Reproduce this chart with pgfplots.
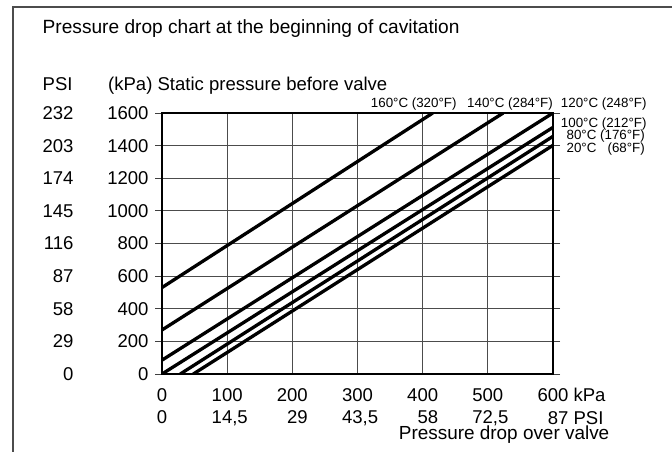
\documentclass[border=0pt]{standalone}
\usepackage{fontspec}
\setmainfont{Liberation Sans}
\usepackage{pgfplots}
\pgfplotsset{compat=1.18}
\begin{document}
\begin{tikzpicture}[x=1bp,y=1bp]
\useasboundingbox (0,0) rectangle (672,-452);
\draw[line width=1.8bp, black!70] (13,-455) -- (13,-6.7) -- (675,-6.7);
\node[anchor=base west, inner sep=0pt, font=\fontsize{19.2}{22}\selectfont] at (42.5,-33.3) {Pressure drop chart at the beginning of cavitation};
\node[anchor=base west, inner sep=0pt, font=\fontsize{18.6}{22}\selectfont] at (42.5,-91) {PSI};
\node[anchor=base west, inner sep=0pt, font=\fontsize{18.6}{22}\selectfont] at (108,-91) {(kPa) Static pressure before valve};
\node[anchor=base east, inner sep=0pt, font=\fontsize{19}{22}\selectfont] at (609.5,-439.3) {Pressure drop over valve};
\begin{scope}[font=\fontsize{13.4}{15}\selectfont]
\node[anchor=west, inner sep=0pt] at (370.7,-104) {160°C (320°F)};
\node[anchor=west, inner sep=0pt] at (467,-104) {140°C (284°F)};
\node[anchor=west, inner sep=0pt] at (560.7,-104) {120°C (248°F)};
\node[anchor=west, inner sep=0pt] at (560.7,-124.5) {100°C (212°F)};
\node[anchor=east, inner sep=0pt] at (645,-136.5) {80°C (176°F)};
\node[anchor=east, inner sep=0pt] at (645,-149) {20°C \ \ (68°F)};
\end{scope}
\begin{axis}[
  at={(162bp,-374bp)}, anchor=south west,
  scale only axis, width=391bp, height=261bp,
  xmin=0, xmax=600, ymin=0, ymax=1600,
  xtick={0,100,200,300,400,500,600},
  ytick={0,200,400,600,800,1000,1200,1400,1600},
  xticklabels={
    {0\\0},
    {100\\\rlap{14,5}\phantom{100}},
    {200\\\phantom{200}\llap{29}},
    {300\\\rlap{43,5}\phantom{300}},
    {400\\\phantom{400}\llap{58}},
    {500\\\rlap{72,5}\phantom{500}},
    {600\rlap{ kPa}\\\phantom{600}\llap{87}\rlap{ PSI}}},
  yticklabels={
    {\llap{0\hspace{75bp}}\llap{0}},
    {\llap{29\hspace{75bp}}\llap{200}},
    {\llap{58\hspace{75bp}}\llap{400}},
    {\llap{87\hspace{75bp}}\llap{600}},
    {\llap{116\hspace{75bp}}\llap{800}},
    {\llap{145\hspace{75bp}}\llap{1000}},
    {\llap{174\hspace{75bp}}\llap{1200}},
    {\llap{203\hspace{75bp}}\llap{1400}},
    {\llap{232\hspace{75bp}}\llap{1600}}},
  ticklabel style={font=\fontsize{18.6}{22.5}\selectfont},
  xticklabel style={align=center, anchor=north, inner sep=0pt, yshift=-7bp},
  yticklabel style={anchor=east, inner sep=0pt, xshift=-5.8bp},
  tick align=outside,
  major tick length=7bp,
  xtick style={draw=none},
  ytick style={line width=0.8bp, black!75},
  grid=major,
  major grid style={line width=0.8bp, black!70},
  axis line style={line width=1.8bp},
]
\addplot[black, line width=3.3bp, no marks] coordinates {(0,530) (415.5,1600)};
\addplot[black, line width=3.3bp, no marks] coordinates {(0,270) (523.6,1600)};
\addplot[black, line width=3.3bp, no marks] coordinates {(0,85) (600,1600)};
\addplot[black, line width=3.3bp, no marks] coordinates {(0,0) (600,1512)};
\addplot[black, line width=3.3bp, no marks] coordinates {(28,0) (600,1457)};
\addplot[black, line width=3.3bp, no marks] coordinates {(48,0) (600,1402)};
\end{axis}
\end{tikzpicture}
\end{document}
